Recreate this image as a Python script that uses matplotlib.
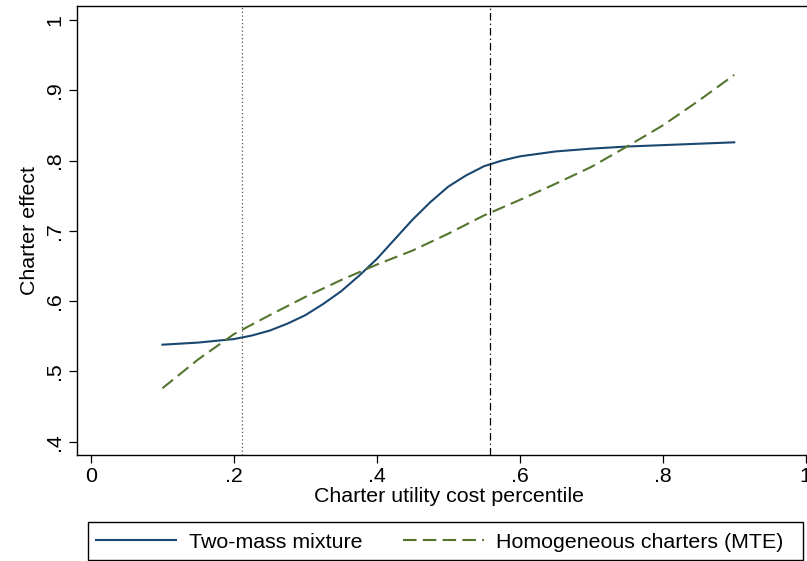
import matplotlib
matplotlib.use("Agg")
import matplotlib.pyplot as plt
from matplotlib.patches import Rectangle

plt.rcParams['font.family'] = ['Liberation Sans', 'DejaVu Sans']

# percentile grid and the two MTE curves
pct_mix = [0.10, 0.15, 0.20, 0.225, 0.25, 0.275, 0.30, 0.325, 0.35, 0.375, 0.40,
           0.425, 0.45, 0.475, 0.50, 0.525, 0.55, 0.575, 0.60, 0.65, 0.70, 0.75,
           0.80, 0.85, 0.90]
two_mass = [0.538, 0.541, 0.546, 0.551, 0.558, 0.568, 0.580, 0.596, 0.614, 0.636, 0.660,
            0.688, 0.716, 0.741, 0.763, 0.779, 0.792, 0.800, 0.806, 0.813, 0.817, 0.820,
            0.822, 0.824, 0.826]

pct_hom = [0.10, 0.15, 0.20, 0.25, 0.30, 0.35, 0.40, 0.45, 0.50,
           0.55, 0.60, 0.65, 0.70, 0.75, 0.80, 0.85, 0.90]
homog = [0.476, 0.517, 0.553, 0.580, 0.606, 0.630, 0.652, 0.672, 0.696,
         0.722, 0.744, 0.767, 0.791, 0.820, 0.850, 0.885, 0.922]

cut_low = 0.212
cut_high = 0.558

xticks = [0, 0.2, 0.4, 0.6, 0.8, 1.0]
xlabels = ['0', '.2', '.4', '.6', '.8', '1']
yticks = [0.4, 0.5, 0.6, 0.7, 0.8, 0.9, 1.0]
ylabels = ['.4', '.5', '.6', '.7', '.8', '.9', '1']

fs = 15.4

fig = plt.figure(figsize=(8.07, 5.61), dpi=100)
ax = fig.add_axes([77/807, 1-455/561, (820-77)/807, (455-6)/561])

ax.plot(pct_mix, two_mass, color='#1a476f', lw=1.5, label='Two-mass mixture')
ax.plot(pct_hom, homog, color='#55752f', lw=1.5, dashes=(6.5, 3),
        label='Homogeneous charters (MTE)')
ax.axvline(cut_low, color='#555555', lw=0.9, ls=(0, (1, 2)))
ax.axvline(cut_high, color='black', lw=0.9, ls=(0, (6, 2.5, 1, 2.5)))

ax.set_xlim(-0.0195, 1.02)
ax.set_ylim(0.381, 1.02)
ax.set_xticks(xticks)
ax.set_xticklabels(xlabels)
ax.set_yticks(yticks)
ax.set_yticklabels(ylabels, rotation=90, va='center')
ax.tick_params(labelsize=fs, length=6, width=0.9, pad=3)
for s in ax.spines.values():
    s.set_linewidth(1.0)

ax.set_xlabel('Charter utility cost percentile', fontsize=fs, labelpad=0)
ax.set_ylabel('Charter effect', fontsize=fs, labelpad=5)

# legend box below the plot
h, l = ax.get_legend_handles_labels()
leg = fig.legend(h, l, ncol=2, loc='center',
                 bbox_to_anchor=(440/807, 1-542/561),
                 fontsize=fs, handlelength=3.75, handletextpad=0.6,
                 columnspacing=1.9, frameon=False)
fig.patches.append(Rectangle((88/807, 0.001), (803-88)/807, (560-522)/561,
                             transform=fig.transFigure, fill=False,
                             edgecolor='black', lw=1.0))

fig.savefig('out.png', dpi=100)
